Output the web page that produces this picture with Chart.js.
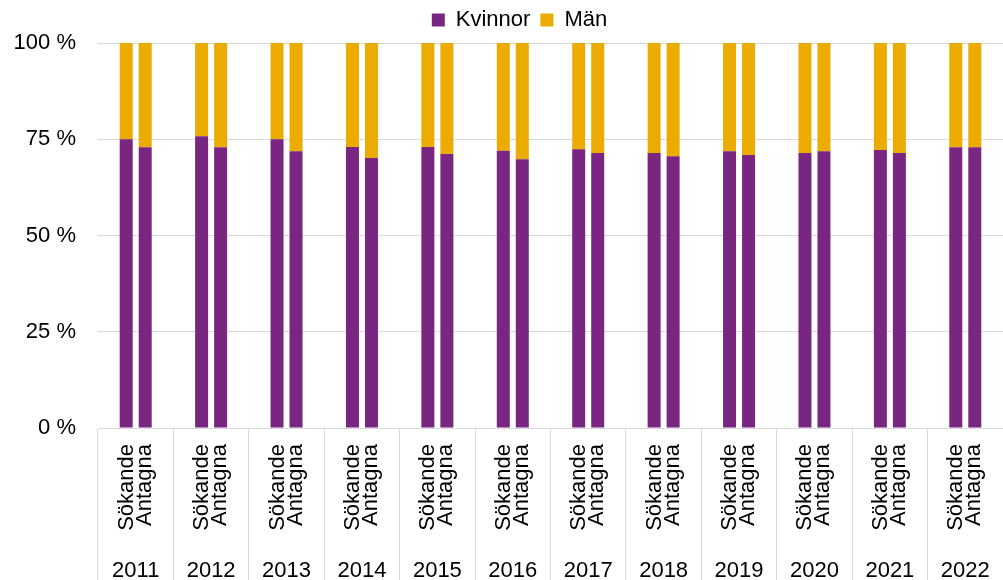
<!DOCTYPE html>
<html>
<head>
<meta charset="utf-8">
<script src="https://cdn.jsdelivr.net/npm/chart.js@4.4.1/dist/chart.umd.min.js"></script>
<style>
  html, body { margin:0; padding:0; background:#fff; }
  #wrap { width:1003px; height:580px; position:relative; }
</style>
</head>
<body>
<div id="wrap"><canvas id="chart"></canvas></div>
<script>
const YEARS = ["2011","2012","2013","2014","2015","2016","2017","2018","2019","2020","2021","2022"];
const GROUPS = ["Sökande","Antagna"];
const Y_TICKS = [0, 25, 50, 75, 100];

// andel i procent
const kvinnorSokande = [75.0, 75.8, 75.0, 73.0, 73.0, 72.0, 72.4, 71.4, 71.9, 71.4, 72.2, 72.9];
const manSokande     = [25.0, 24.2, 25.0, 27.0, 27.0, 28.0, 27.6, 28.6, 28.1, 28.6, 27.8, 27.1];
const kvinnorAntagna = [72.9, 72.9, 71.9, 70.1, 71.2, 69.8, 71.4, 70.6, 70.9, 71.9, 71.4, 72.9];
const manAntagna     = [27.1, 27.1, 28.1, 29.9, 28.8, 30.2, 28.6, 29.4, 29.1, 28.1, 28.6, 27.1];

const PURPLE = "#782682", YELLOW = "#EBAB00", GRID = "#d9d9d9", INK = "#000000";
const FONT = "'Liberation Sans', Arial, sans-serif";

const bar = (label, data, stack, color) => ({
  label, data, stack, backgroundColor:color, borderWidth:0,
  categoryPercentage:0.504, barPercentage:0.684
});

// under-etiketter (Sökande/Antagna roterade + år)
const groupLabels = {
  id:"groupLabels",
  afterLayout(chart){
    const lg = chart.legend;
    lg.left += 18; lg.right += 18;
    lg.top -= 2; lg.bottom -= 2;
  },
  afterDraw(chart){
    const {ctx, scales:{x}} = chart;
    ctx.save();
    ctx.fillStyle = INK;
    ctx.font = "22px " + FONT;
    YEARS.forEach((yr, i) => {
      const cx = x.getPixelForValue(i);
      [[GROUPS[0], cx - 3], [GROUPS[1], cx + 15]].forEach(([txt, bx]) => {
        ctx.save();
        ctx.translate(bx, 444);
        ctx.rotate(-Math.PI/2);
        ctx.textAlign = "right";
        ctx.textBaseline = "alphabetic";
        ctx.fillText(txt, 0, 0);
        ctx.restore();
      });
      ctx.textAlign = "center";
      ctx.textBaseline = "alphabetic";
      ctx.fillText(yr, cx, 577);
    });
    ctx.restore();
  }
};

new Chart(document.getElementById("chart"), {
  type:"bar",
  data:{
    labels:YEARS,
    datasets:[
      bar("Kvinnor", kvinnorSokande, GROUPS[0], PURPLE),
      bar("Män", manSokande, GROUPS[0], YELLOW),
      bar("Kvinnor", kvinnorAntagna, GROUPS[1], PURPLE),
      bar("Män", manAntagna, GROUPS[1], YELLOW)
    ]
  },
  options:{
    responsive:true, maintainAspectRatio:false, animation:false,
    layout:{ padding:{ top:1, right:0, bottom:0, left:0 } },
    plugins:{
      legend:{
        position:"top",
        labels:{
          filter:(item)=>item.datasetIndex < 2,
          boxWidth:13, boxHeight:13, padding:10,
          color:INK, font:{ family:FONT, size:22 }
        }
      },
      tooltip:{ enabled:false }
    },
    scales:{
      x:{
        stacked:true,
        grid:{ offset:true, drawOnChartArea:false, drawTicks:true, tickLength:152, color:GRID },
        border:{ color:GRID },
        ticks:{ display:false },
        afterFit(s){ s.height = 152; }
      },
      y:{
        stacked:true, min:0, max:100,
        afterBuildTicks(s){ s.ticks = Y_TICKS.map(v=>({ value:v })); },
        ticks:{ callback:v=>v+" %", color:INK, padding:22, font:{ family:FONT, size:22 } },
        grid:{ color:GRID, drawTicks:false },
        border:{ display:false },
        afterFit(s){ s.width = 98; }
      }
    }
  },
  plugins:[groupLabels]
});
</script>
</body>
</html>
